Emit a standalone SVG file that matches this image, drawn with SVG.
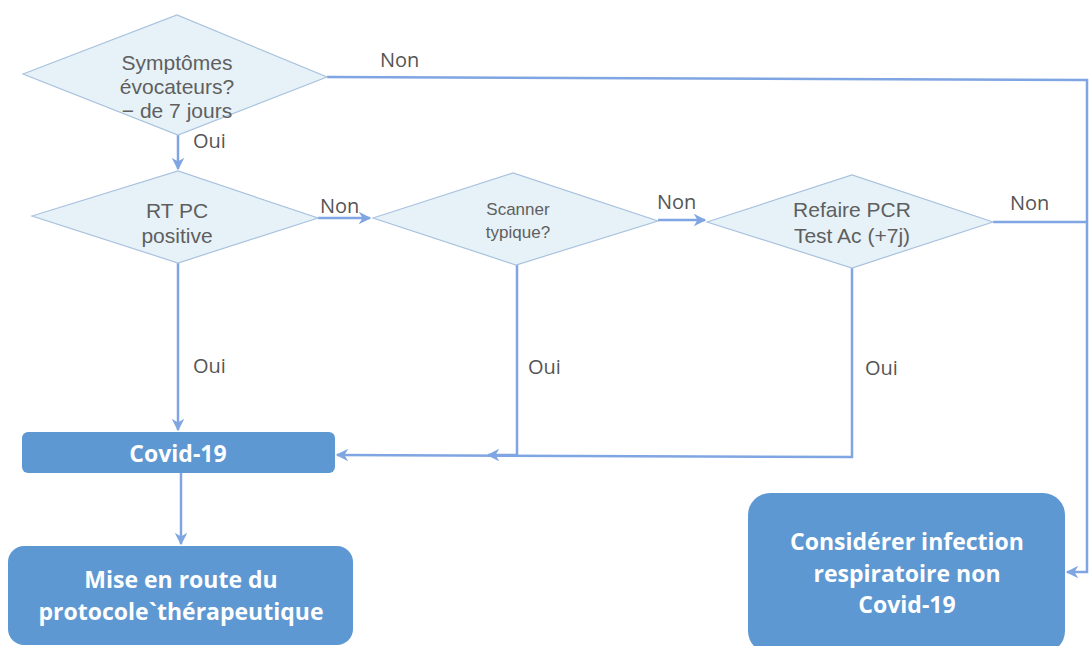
<svg xmlns="http://www.w3.org/2000/svg" width="1089" height="646" viewBox="0 0 1089 646">
<style>
.dia{fill:#e6f2f7;stroke:#a9c2de;stroke-width:1.2}
.box{fill:#5d98d2}
.dt{font-family:"Liberation Sans",Arial,sans-serif;font-size:21px;fill:#5f5f5f;text-anchor:middle}
.ds{font-family:"Liberation Sans",Arial,sans-serif;font-size:17px;fill:#5f5f5f;text-anchor:middle}
.lb{font-family:"Open Sans",sans-serif;font-size:20px;fill:#555}
.bt{font-family:"Open Sans",sans-serif;font-size:23px;font-weight:bold;fill:#fff;text-anchor:middle}
.cn{fill:none;stroke:#7fa5e2;stroke-width:2.5}
</style>
<defs>
<marker id="ah" viewBox="0 0 10 10" refX="9" refY="5" markerWidth="5" markerHeight="5" orient="auto" markerUnits="strokeWidth">
<path d="M0,0 L10,5 L0,10 L3,5 z" fill="#7fa5e2"/>
</marker>
</defs>
<rect width="1089" height="646" fill="#fff"/>
<g id="connectors">
<polyline class="cn" points="327,77 1087,80 1087,572 1067,572" marker-end="url(#ah)"/>
<line class="cn" x1="178" y1="135" x2="178" y2="169" marker-end="url(#ah)"/>
<line class="cn" x1="318" y1="218" x2="370" y2="218" marker-end="url(#ah)"/>
<line class="cn" x1="658" y1="220" x2="705" y2="220" marker-end="url(#ah)"/>
<line class="cn" x1="993" y1="222" x2="1087" y2="222"/>
<line class="cn" x1="178" y1="263" x2="178" y2="430" marker-end="url(#ah)"/>
<polyline class="cn" points="852,268 852,457 337,455" marker-end="url(#ah)"/>
<polyline class="cn" points="517,265 517,455 488,455" marker-end="url(#ah)"/>
<line class="cn" x1="181" y1="473" x2="181" y2="544" marker-end="url(#ah)"/>
</g>
<g id="labels">
<text class="lb" x="380" y="67">Non</text>
<text class="lb" x="193" y="148">Oui</text>
<text class="lb" x="320" y="213">Non</text>
<text class="lb" x="657" y="209">Non</text>
<text class="lb" x="1010" y="210">Non</text>
<text class="lb" x="193" y="373">Oui</text>
<text class="lb" x="528" y="374">Oui</text>
<text class="lb" x="865" y="375">Oui</text>
</g>
<g id="n1">
<polygon class="dia" points="23,74 177,15 327,77 178,135"/>
<text class="dt" x="177" y="70">Symptômes</text>
<text class="dt" x="177" y="94">évocateurs?</text>
<text class="dt" x="177" y="118">− de 7 jours</text>
</g>
<g id="n2">
<polygon class="dia" points="32,216 178,171 318,218 178,263"/>
<text class="dt" x="177" y="218">RT PC</text>
<text class="dt" x="177" y="243">positive</text>
</g>
<g id="n3">
<polygon class="dia" points="373,218 513,173 658,221 516,265"/>
<text class="ds" x="518" y="215">Scanner</text>
<text class="ds" x="518" y="238">typique?</text>
</g>
<g id="n4">
<polygon class="dia" points="707,222 852,175 993,222 852,268"/>
<text class="dt" x="852" y="217">Refaire PCR</text>
<text class="dt" x="852" y="243">Test Ac (+7j)</text>
</g>
<g id="n5">
<rect class="box" x="22" y="432" width="313" height="41" rx="6"/>
<text class="bt" x="178" y="462">Covid-19</text>
</g>
<g id="n6">
<rect class="box" x="8" y="546" width="345" height="99" rx="16"/>
<text class="bt" x="181" y="588">Mise en route du</text>
<text class="bt" x="181" y="620">protocole`thérapeutique</text>
</g>
<g id="n7">
<rect class="box" x="748" y="493" width="317" height="160" rx="22"/>
<text class="bt" x="907" y="550">Considérer infection</text>
<text class="bt" x="907" y="582">respiratoire non</text>
<text class="bt" x="907" y="613">Covid-19</text>
</g>
</svg>
